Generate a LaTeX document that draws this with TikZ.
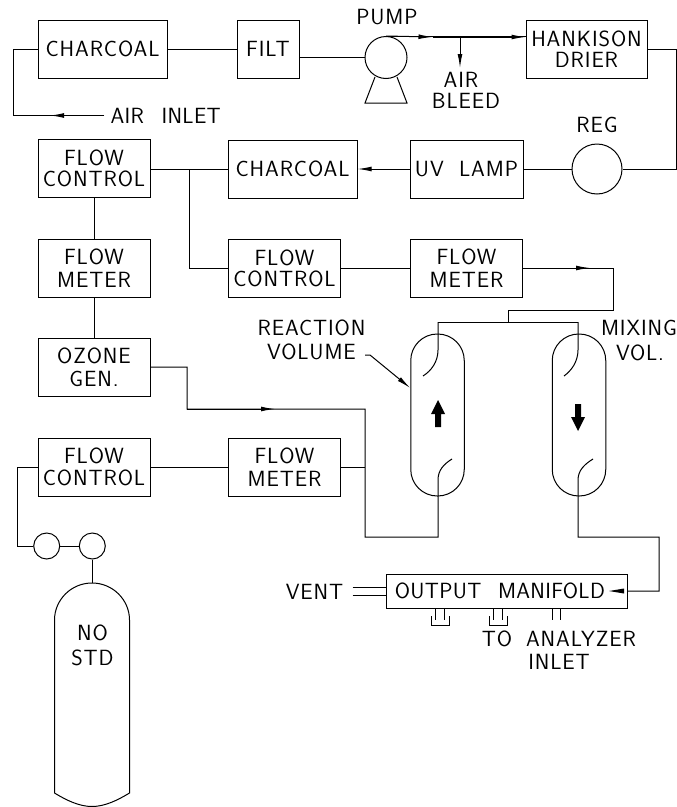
\documentclass[tikz,border=0pt]{standalone}
\usepackage{fontspec}
\newfontfamily\cadfont{Latin Modern Sans}[LetterSpace=4]
\newfontfamily\cadtight{Latin Modern Sans}[LetterSpace=1.5]
\usetikzlibrary{arrows.meta}
\tikzset{
  every picture/.style={x=0.75pt,y=-0.75pt,line width=0.75pt},
  lbl/.style={font=\cadfont\fontsize{16.5}{17}\selectfont,align=center,inner sep=0pt,text=black},
  tightlbl/.style={font=\cadtight\fontsize{16.5}{17}\selectfont},
  box/.style 2 args={draw,lbl,minimum width=#1*0.75pt,minimum height=#2*0.75pt},
  ring/.style={draw,circle,inner sep=0pt,minimum size=#1*0.75pt},
  vessel/.style={draw,rounded corners=19.9pt,inner sep=0pt,minimum width=53.5*0.75pt,minimum height=162*0.75pt},
  flow/.style={-{Latex[length=10.5pt,width=3.6pt]}},
  fathead/.style={fill=black,draw=none}
}
\begin{document}
\begin{tikzpicture}
\useasboundingbox (0,0) rectangle (677,807);
% boxes
\node[box={129}{58}] (char1) at (102.5,49) {CHARCOAL};
\node[box={62}{58}] (filt) at (268,49) {FILT};
\node[box={121}{58}] (drier) at (586.5,49) {HANKISON\\[-1pt]DRIER};
\node[box={113}{58}] (uv) at (466.5,169) {UV\hspace{0.7em}LAMP};
\node[box={129}{58}] (char2) at (292.5,169) {CHARCOAL};
\node[box={112}{58}] (fc1) at (94,168.5) {FLOW\\[-1.3pt]CONTROL};
\node[box={112}{58}] (fm1) at (94,268) {FLOW\\METER};
\node[box={112}{58}] (fc2) at (284.5,268) {FLOW\\[-1.3pt]CONTROL};
\node[box={112}{58}] (fm2) at (466.5,268) {FLOW\\METER};
\node[box={112}{58}] (oz) at (94,367) {OZONE\\GEN.};
\node[box={112}{58}] (fc3) at (94,467) {FLOW\\CONTROL};
\node[box={112}{58}] (fm3) at (284.5,467) {FLOW\\METER};
\node[box={241}{34},tightlbl] (man) at (506.5,591) {OUTPUT\hspace{0.75em}MANIFOLD\hspace{0.6em}};
% circles and vessels
\node[ring=42] (pump) at (386,57.5) {};
\node[ring=50] (reg) at (597,169) {};
\node[ring=26] (v1) at (46.7,546) {};
\node[ring=26] (v2) at (92.3,546) {};
\node[vessel] (rv) at (437.5,415) {};
\node[vessel] (mv) at (579,415) {};
% labels
\node[lbl] (lpump) at (387,17) {PUMP};
\node[lbl] (lair) at (461,80) {AIR};
\node[lbl] (lbleed) at (466,101) {BLEED};
\node[lbl] (lreg) at (597,125) {REG};
\node[lbl,tightlbl,anchor=west] (linlet) at (110,116) {AIR\hspace{0.8em}INLET};
\node[lbl] (lreact) at (311.5,328) {REACTION};
\node[lbl] (lvol) at (311.5,352) {VOLUME};
\node[lbl] (lmix) at (639,328) {MIXING};
\node[lbl] (lvolb) at (640,353) {VOL.};
\node[lbl] (lvent) at (314.5,591.5) {VENT};
\node[lbl] (lto) at (497,639) {TO};
\node[lbl] (lana) at (581,639) {ANALYZER};
\node[lbl] (linl) at (559,662) {INLET};
\node[lbl] (lno) at (92.5,645) {NO\\[1.7pt]STD};
% coordinates
\coordinate (p1) at (432.5,37);
\coordinate (bl) at (460,37);
\coordinate (blend) at (460,68);
\coordinate (hook1) at (13.5,49);
\coordinate (hook2) at (13.5,115.5);
\coordinate (ain) at (104,115.5);
\coordinate (amid) at (50,115.5);
\coordinate (top) at (438,322);
\coordinate (topm) at (578,322);
% upper train
\draw (char1.east) -- (filt.west);
\draw (filt.east |- pump.west) -- (pump.west);
\draw (pump.north) -- (drier.west |- pump.north);
\draw[flow] (pump.north) -- (p1);
\draw[flow] (p1) -- (drier.west |- p1);
\draw[flow] (bl) -- (blend);
\draw (375,77) -- (365,103) -- (407,103) -- (397,77);
\draw (ain) -- (hook2) -- (hook1) -- (char1.west);
\draw[flow] (ain) -- (amid);
\draw (drier.east) -- (676,49) -- (676,169) -- (reg.east);
\draw (reg.west) -- (uv.east);
\draw[flow] (uv.west) -- (char2.east);
\draw (char2.west) -- (fc1.east |- char2.west);
\draw (189.5,169) -- (189.5,268) -- (fc2.west);
\draw (fc2.east) -- (fm2.west);
\draw (fc1.south) -- (fm1.north);
\draw (fm1.south) -- (oz.north);
% to vessels
\draw (fm2.east) -- (613,268) -- (613,310) -- (508,310) -- (508,322);
\draw[flow] (fm2.east) -- (590,268);
\draw (top) -- (topm);
\draw (top) -- (438,350) .. controls (438,362) and (431,371) .. (423,376);
\draw (topm) -- (578,350) .. controls (578,362) and (571,371) .. (564,376);
\draw (oz.east) -- (187,367) -- (187,409) -- (365,409) -- (365,537) -- (438,537) -- (438,480) .. controls (438,470) and (444,464) .. (452,459);
\draw[flow] (187,409) -- (275,409);
\draw (fc3.east) -- (fm3.west);
\draw (fm3.east) -- (365,467);
\draw (man.east) -- (659,591) -- (659,537) -- (578,537) -- (578,480) .. controls (578,470) and (585,464) .. (593,459);
\fill[fathead] (609,591) -- (624,588.5) -- (624,593.5) -- cycle;
% flow direction arrows
\fill[fathead] (438,400) -- (445,414) -- (441,414) -- (441,427) -- (435,427) -- (435,414) -- (431,414) -- cycle;
\fill[fathead] (578,431) -- (585,417) -- (581,417) -- (581,404) -- (575,404) -- (575,417) -- (571,417) -- cycle;
% reaction leader
\draw[-{Latex[length=10.5pt,width=3.6pt]}] (365,355) -- (370,355) -- (rv.west |- 0,388);
% output manifold stubs
\draw (352.5,587) -- (man.west |- 0,587);
\draw (352.5,595.5) -- (man.west |- 0,595.5);
\draw (435,608) -- (435,620) (444,608) -- (444,620);
\draw (431,616) -- (431,625) -- (449,625) -- (449,616);
\draw (493,608) -- (493,620) (502,608) -- (502,620);
\draw (489,616) -- (489,625) -- (507,625) -- (507,616);
\draw (552,608) -- (552,620) (560,608) -- (560,620);
% cylinder
\draw (fc3.west) -- (17.5,467) -- (17.5,546) -- (v1.west);
\draw (v1.east) -- (v2.west);
\draw (v2.south) -- (92.3,583);
\draw (54.5,793) -- (54.5,620) .. controls (54.5,600) and (71,583) .. (92,583)
  .. controls (113,583) and (129.5,600) .. (129.5,620) -- (129.5,793)
  .. controls (118,800) and (105,806.5) .. (92,806.5) .. controls (79,806.5) and (66,800) .. (54.5,793);
\end{tikzpicture}
\end{document}
